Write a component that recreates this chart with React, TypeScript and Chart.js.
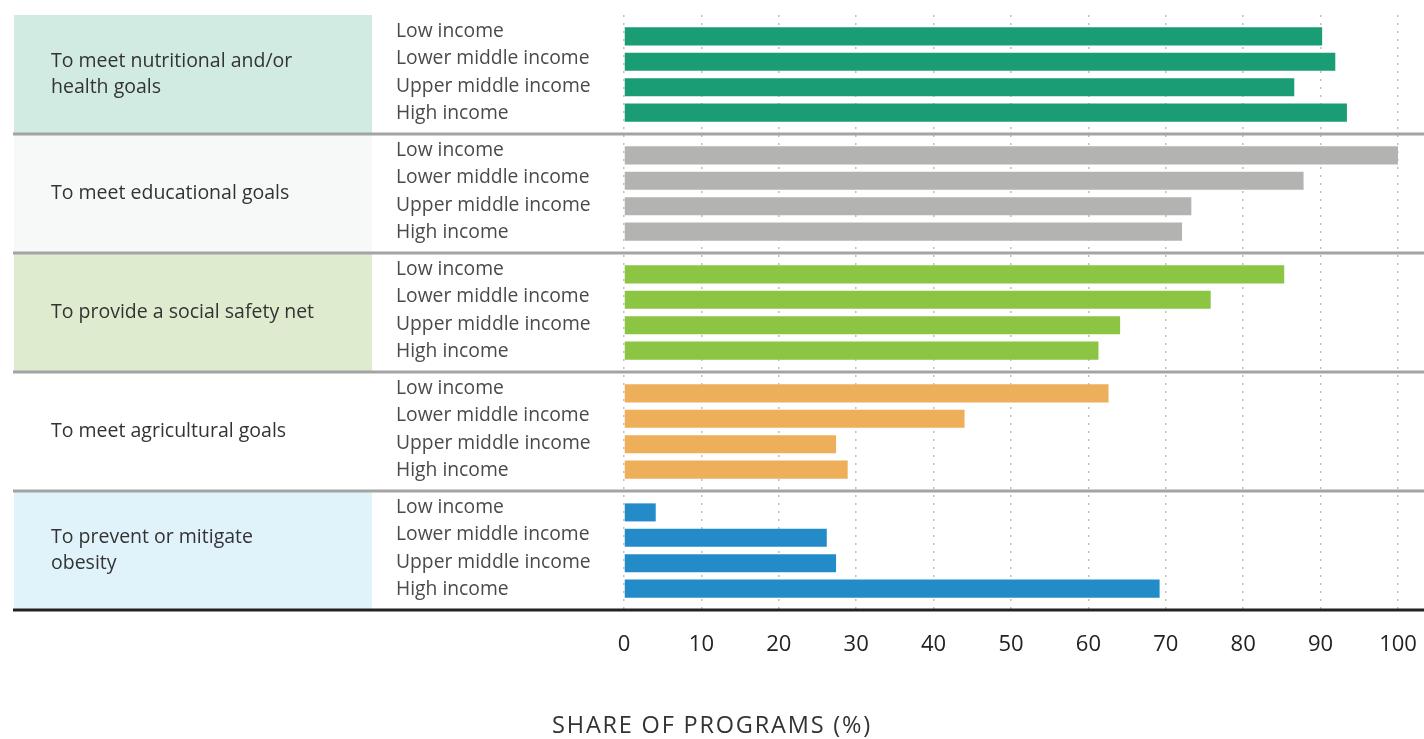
import React, { useEffect, useRef } from "react";
import { Chart, registerables } from "chart.js";

Chart.register(...registerables);

const purposes: string[][] = [
  ["To meet nutritional and/or", "health goals"],
  ["To meet educational goals"],
  ["To provide a social safety net"],
  ["To meet agricultural goals"],
  ["To prevent or mitigate", "obesity"],
];
const incomeLevels = ["Low income", "Lower middle income", "Upper middle income", "High income"];
const lowIncome = [90.2, 100, 85.3, 62.6, 4.1];
const lowerMiddleIncome = [91.9, 87.8, 75.8, 44.0, 26.2];
const upperMiddleIncome = [86.6, 73.3, 64.1, 27.4, 27.4];
const highIncome = [93.4, 72.1, 61.3, 28.9, 69.2];
const xTicks = [0, 10, 20, 30, 40, 50, 60, 70, 80, 90, 100];
const axisTitle = "SHARE OF PROGRAMS (%)";

const barColors = ["#1a9c74", "#b3b3b2", "#8cc444", "#eeaf5a", "#228bc8"];
const panelColors = ["#d2ebe2", "#f7f9f8", "#dfebcf", "#ffffff", "#e0f3fa"];
const FONT = "'Open Sans', 'Noto Sans', sans-serif";

const decorPlugin = {
  id: "decor",
  beforeDraw(chart: any) {
    const { ctx, chartArea } = chart;
    const n = purposes.length;
    const h = (chartArea.bottom - chartArea.top) / n;
    ctx.save();
    for (let g = 0; g < n; g++) {
      ctx.fillStyle = panelColors[g];
      ctx.fillRect(14, chartArea.top + g * h, 358, h);
    }
    ctx.restore();
  },
  afterDatasetsDraw(chart: any) {
    const { ctx, chartArea } = chart;
    const n = purposes.length;
    const h = (chartArea.bottom - chartArea.top) / n;
    const W = chart.width;
    ctx.save();
    for (let g = 1; g < n; g++) {
      const y = chartArea.top + g * h;
      ctx.strokeStyle = "#a3a3a3";
      ctx.lineWidth = 3;
      ctx.beginPath();
      ctx.moveTo(13, y);
      ctx.lineTo(W, y);
      ctx.stroke();
    }
    ctx.strokeStyle = "#222222";
    ctx.lineWidth = 3;
    ctx.beginPath();
    ctx.moveTo(13, chartArea.bottom);
    ctx.lineTo(W, chartArea.bottom);
    ctx.stroke();

    ctx.fillStyle = "#333333";
    ctx.font = `19.5px ${FONT}`;
    ctx.textAlign = "left";
    ctx.textBaseline = "middle";
    const lh = 26;
    for (let g = 0; g < n; g++) {
      const cy = chartArea.top + g * h + h / 2;
      const lines = purposes[g];
      lines.forEach((line, i) => {
        const y = cy + (i - (lines.length - 1) / 2) * lh;
        ctx.fillText(line, 51, y);
      });
    }

    ctx.fillStyle = "#4a4a4a";
    ctx.font = `19.3px ${FONT}`;
    incomeLevels.forEach((lab, d) => {
      const meta = chart.getDatasetMeta(d);
      meta.data.forEach((bar: any) => {
        ctx.fillText(lab, 396, bar.y + (d - 1.5) * 1.8 - 2);
      });
    });

    ctx.fillStyle = "#333333";
    ctx.font = `23.5px ${FONT}`;
    ctx.textAlign = "center";
    (ctx as any).letterSpacing = "1.8px";
    ctx.fillText(axisTitle, W / 2, 726);
    ctx.restore();
  },
};

export default function App() {
  const ref = useRef<HTMLCanvasElement | null>(null);
  useEffect(() => {
    if (!ref.current) return;
    const seriesList = [lowIncome, lowerMiddleIncome, upperMiddleIncome, highIncome];
    const chart = new Chart(ref.current, {
      type: "bar",
      data: {
        labels: purposes.map((p) => p.join(" ")),
        datasets: seriesList.map((s, i) => ({
          label: incomeLevels[i],
          data: s,
          backgroundColor: barColors,
          borderWidth: 0,
          categoryPercentage: 0.854,
          barPercentage: 0.71,
        })),
      },
      options: {
        indexAxis: "y",
        animation: false,
        responsive: false,
        maintainAspectRatio: false,
        layout: { padding: { left: 624, right: 26, top: 15, bottom: 79 } },
        plugins: { legend: { display: false }, tooltip: { enabled: false } },
        scales: {
          y: { display: false },
          x: {
            min: 0,
            max: 100,
            afterBuildTicks: (scale: any) => {
              scale.ticks = xTicks.map((v) => ({ value: v }));
            },
            afterFit: (scale: any) => {
              scale.height = 50;
              scale.paddingLeft = 0;
              scale.paddingRight = 0;
            },
            grid: { color: "#c0c0c0", lineWidth: 1.5, drawTicks: false },
            border: { display: false, dash: [2, 6] },
            ticks: {
              padding: 22,
              color: "#222222",
              font: { family: FONT, size: 22 },
            },
          },
        },
      },
      plugins: [decorPlugin],
    });
    return () => chart.destroy();
  }, []);
  return (
    <div style={{ position: "fixed", left: 0, top: 0, width: 1424, height: 739, background: "#fff" }}>
      <canvas ref={ref} width={1424} height={739} />
    </div>
  );
}
